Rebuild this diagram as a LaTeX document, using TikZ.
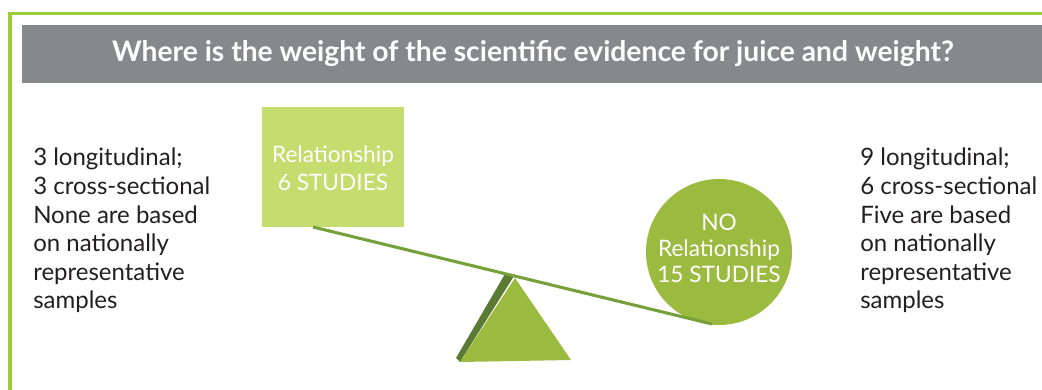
\documentclass[tikz,border=0pt]{standalone}
\usepackage{fontspec}
\setmainfont{Lato}
\usepackage{xcolor}
\definecolor{framegreen}{RGB}{156, 203, 59}
\definecolor{bargray}{RGB}{135, 136, 140}
\definecolor{lightgreen}{RGB}{197, 220, 110}
\definecolor{leafgreen}{RGB}{155, 187, 64}
\definecolor{beamgreen}{RGB}{118, 160, 58}
\definecolor{darkgreen}{RGB}{91, 122, 52}
\definecolor{textgray}{RGB}{35, 31, 32}

\tikzset{
        sidetext/.style={anchor=north west, align=left, inner sep=0pt, text=textgray,
                font=\fontsize{18}{21.4}\selectfont},
        weighttext/.style={align=center, text=white, inner sep=0pt,
                font=\fontsize{17}{21}\selectfont},
}

\begin{document}
\begin{tikzpicture}[x=0.75pt, y=0.75pt]
        \useasboundingbox (0, 0) rectangle (1042, 389);

        % Frame and title bar
        \draw[framegreen, line width=2.6pt] (10, -5) -- (10, 375.5) -- (1045, 375.5);
        \fill[bargray] (22, 306) rectangle (1042, 364);
        \node[text=white, font=\fontsize{21.2}{24}\selectfont\bfseries] (title) at (533, 335)
                {Where is the weight of the scientific evidence for juice and weight?};

        % The scale {{{
        \fill[darkgreen] (456, 31) -- (505, 115) -- (514, 113) -- (460, 27) -- cycle; % shaded side
        \fill[leafgreen] (515, 111) -- (460, 27) -- (571, 29) -- cycle; % fulcrum

        \node[fill=lightgreen, minimum width=106.5pt, minimum height=90pt, inner sep=0pt] (rel) at (333, 222) {};
        \node[weighttext] (reltxt) at (333, 221) {Relationship\\6 STUDIES};

        \node[circle, fill=leafgreen, minimum size=109.5pt, inner sep=0pt] (norel) at (719, 137) {};
        \node[weighttext, font=\fontsize{17}{19.5}\selectfont] (noreltxt) at (719, 141) {NO\\Relationship\\15 STUDIES};

        \coordinate (beamL) at (313, 162);
        \coordinate (beamR) at (712, 65);
        \draw[beamgreen, line width=2.3pt] (beamL) -- (beamR);
        % }}}

        % Study counts
        \node[sidetext] (lefttxt) at (33, 241)
                {3 longitudinal;\\3 cross-sectional\\None are based\\on nationally\\representative\\samples};
        \node[sidetext] (righttxt) at (860, 241)
                {9 longitudinal;\\6 cross-sectional\\Five are based\\on nationally\\representative\\samples};
\end{tikzpicture}
\end{document}
